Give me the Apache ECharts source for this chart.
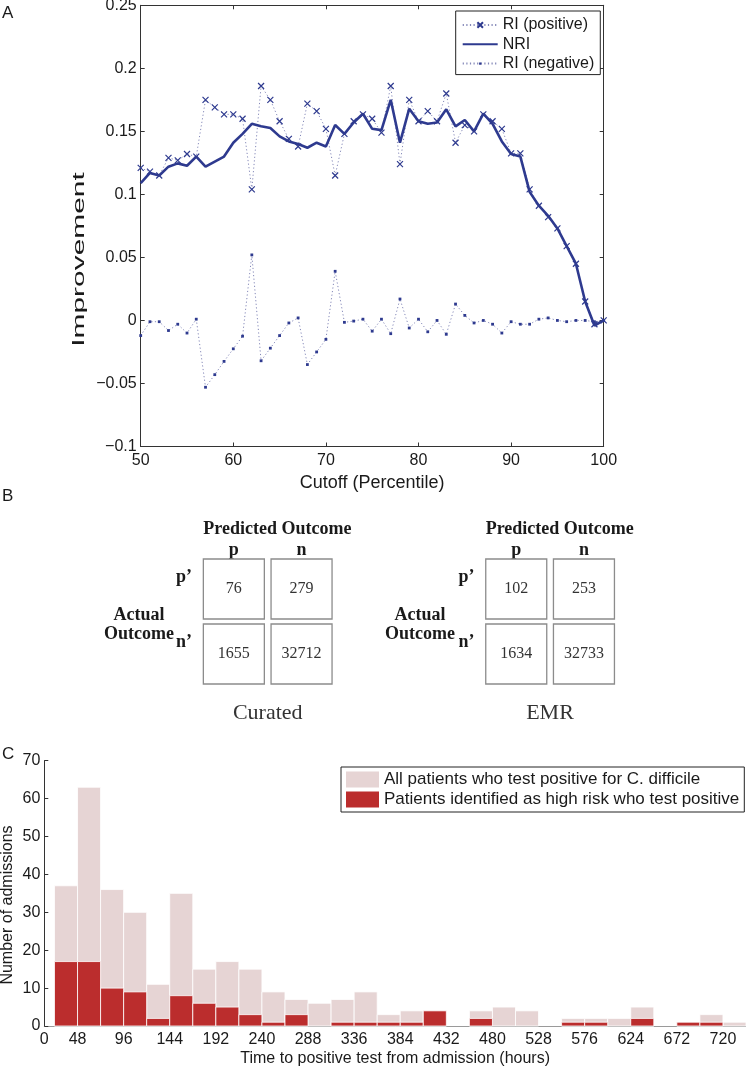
<!DOCTYPE html>
<html><head><meta charset="utf-8">
<script src="https://cdn.jsdelivr.net/npm/echarts@6/dist/echarts.min.js"></script>
<style>html,body{margin:0;padding:0;background:#fff}#chart{width:746px;height:1074px}</style>
</head><body><div id="chart"></div>
<script>
// ---------- Panel A data ----------
const cutoffs = [50,51,52,53,54,55,56,57,58,59,60,61,62,63,64,65,66,67,68,69,70,71,72,73,74,75,76,77,78,79,80,81,82,83,84,85,86,87,88,89,90,91,92,93,94,95,96,97,98,99,100];
const riPositive = [0.121,0.118,0.115,0.129,0.127,0.132,0.130,0.175,0.169,0.1635,
                    0.1635,0.160,0.104,0.186,0.175,0.158,0.144,0.138,0.172,0.166,
                    0.152,0.115,0.148,0.158,0.1635,0.160,0.149,0.186,0.124,0.175,
                    0.158,0.166,0.158,0.180,0.141,0.155,0.150,0.1635,0.158,0.152,
                    0.1325,0.1325,0.104,0.091,0.082,0.073,0.059,0.045,0.015,-0.003,0.000];
const nri = [0.109,0.117,0.115,0.122,0.1246,0.1227,0.130,0.122,0.126,0.130,
             0.141,0.148,0.156,0.154,0.1526,0.146,0.142,0.140,0.137,0.141,
             0.138,0.155,0.148,0.157,0.164,0.152,0.151,0.175,0.141,0.168,
             0.158,0.156,0.157,0.1675,0.154,0.159,0.150,0.164,0.156,0.142,
             0.132,0.130,0.102,0.091,0.083,0.073,0.059,0.045,0.015,-0.004,0.000];
const riNegative = [-0.012,-0.001,-0.001,-0.008,-0.003,-0.010,0.001,-0.053,-0.043,-0.0325,
                    -0.0225,-0.0125,0.052,-0.032,-0.022,-0.012,-0.002,0.002,-0.035,-0.025,
                    -0.015,0.039,-0.0015,-0.0005,0.001,-0.0085,0.001,-0.0105,0.017,-0.006,
                    0.001,-0.009,0.000,-0.011,0.013,0.004,-0.002,0.000,-0.003,-0.010,
                    -0.001,-0.003,-0.003,0.001,0.002,0.000,-0.001,0.000,0.000,-0.001,0.000];
const yTickValuesA = [-0.1,-0.05,0,0.05,0.1,0.15,0.2,0.25];
const yTickLabelsA = ['\u22120.1','\u22120.05','0','0.05','0.1','0.15','0.2','0.25'];

// ---------- Panel B data ----------
const matrixCols = ['p','n'];
const matrixRows = ['p\u2019','n\u2019'];
const curatedCounts = [76,279,1655,32712];   // row-major: p'p, p'n, n'p, n'n
const emrCounts = [102,253,1634,32733];

// ---------- Panel C data ----------
const binStarts = [24,48,72,96,120,144,168,192,216,240,264,288,312,336,360,384,408,432,456,480,504,528,552,576,600,624,648,672,696,720];
const binWidth = 24;
const allPositive = [37,63,36,30,11,35,15,17,15,9,7,6,7,9,3,4,4,0,4,5,4,0,2,2,2,5,0,1,3,1];
const highRisk =    [17,17,10,9,2,8,6,5,3,1,3,0,1,1,1,1,4,0,2,0,0,0,1,1,0,2,0,1,1,0];
const histTickValues = [13.4,48,96,144,192,240,288,336,384,432,480,528,576,624,672,720];
const histTickLabels = ['0','48','96','144','192','240','288','336','384','432','480','528','576','624','672','720'];

// ---------- styles ----------
const SANS = "'Liberation Sans', Arial, Helvetica, sans-serif";
const SERIF = "'Liberation Serif', 'Times New Roman', serif";
const NAVY = '#2e3a8f';
const AXIS = '#333';
const TXT = '#1a1a1a';
const LIGHT = '#e6d4d4';
const DARK = '#bb2d2d';
const X_MARK = 'path://M0,0L10,10M10,0L0,10';
const DOT_MARK = 'path://M0,0L0,0M10,10L10,10M3,3L7,3L7,7L3,7Z';

const chart = echarts.init(document.getElementById('chart'), null, {renderer:'canvas'});

function labelA(v){
  let best = 0;
  yTickValuesA.forEach((t,i)=>{ if (Math.abs(t-v) < Math.abs(yTickValuesA[best]-v)) best = i; });
  return yTickLabelsA[best];
}
function labelC(v){
  let best = 0;
  histTickValues.forEach((t,i)=>{ if (Math.abs(t-v) < Math.abs(histTickValues[best]-v)) best = i; });
  return histTickLabels[best];
}

function histRender(params, api){
  const x0 = api.value(0), x1 = api.value(1), v = api.value(2);
  if (!v) return null;
  const a = api.coord([x0, v]);
  const b = api.coord([x1, 0]);
  return {type:'rect', shape:{x:a[0], y:a[1], width:b[0]-a[0], height:b[1]-a[1]},
          style:{fill: api.visual('color'), stroke:'rgba(255,255,255,0.8)', lineWidth:1}};
}
function cellRender(params, api){
  const c = api.coord([api.value(0), api.value(1)]);
  const s = api.size([1,1]);
  const w = s[0]-6.7, h = s[1]-5;
  return {type:'group', children:[
    {type:'rect', shape:{x:c[0]-w/2, y:c[1]-h/2, width:w, height:h},
     style:{fill:'#fff', stroke:'#8c8c8c', lineWidth:1.3}},
    {type:'text', x:c[0], y:c[1], style:{text:String(api.value(2)), align:'center', verticalAlign:'middle',
      fontFamily:SERIF, fontSize:16, fill:'#333'}}
  ]};
}
function matrixData(counts){
  const out = [];
  matrixRows.forEach((r,ri)=>matrixCols.forEach((c,ci)=>out.push([ci, ri, counts[ri*matrixCols.length+ci]])));
  return out;
}

const axisTxt = {fontFamily:SANS, fontSize:16, color:TXT};
const matXAxis = (gi)=>({type:'category', gridIndex:gi, data:matrixCols, position:'top',
  axisLine:{show:false}, axisTick:{show:false}, splitLine:{show:false},
  axisLabel:{margin:-3, fontFamily:SERIF, fontWeight:'bold', fontSize:18, color:TXT}});
const matYAxis = (gi)=>({type:'category', gridIndex:gi, data:matrixRows, inverse:true,
  axisLine:{show:false}, axisTick:{show:false}, splitLine:{show:false},
  axisLabel:{margin:8, verticalAlign:'bottom', padding:[0,0,3,0], fontFamily:SERIF, fontWeight:'bold', fontSize:18, color:TXT}});

const option = {
  animation:false,
  backgroundColor:'#fff',
  grid:[
    {left:140.7, right:142.3, top:5.3, bottom:627.5, containLabel:false, outerBoundsMode:'none'},
    {left:200, top:556.5, width:135.4, height:130, containLabel:false, outerBoundsMode:'none'},
    {left:482.4, top:556.5, width:135.4, height:130, containLabel:false, outerBoundsMode:'none'},
    {left:44.3, right:0, top:760.7, bottom:48, containLabel:false, outerBoundsMode:'none'}
  ],
  xAxis:[
    {type:'value', gridIndex:0, min:50, max:100, interval:10,
     axisLine:{onZero:false, lineStyle:{color:AXIS, width:1}}, axisTick:{inside:true, length:4, lineStyle:{color:AXIS}},
     axisLabel:Object.assign({margin:6}, axisTxt), splitLine:{show:false},
     name:'Cutoff (Percentile)', nameLocation:'middle', nameGap:28,
     nameTextStyle:{fontFamily:SANS, fontSize:18, color:TXT}},
    {type:'value', gridIndex:0, min:50, max:100, interval:10, position:'top',
     axisLine:{onZero:false, lineStyle:{color:AXIS, width:1}}, axisTick:{inside:true, length:4, lineStyle:{color:AXIS}},
     axisLabel:{show:false}, splitLine:{show:false}},
    matXAxis(1), matXAxis(2),
    {type:'value', gridIndex:3, min:13.4, max:744,
     axisLine:{onZero:false, lineStyle:{color:'#9a9a9a', width:1}}, axisTick:{show:false},
     axisLabel:Object.assign({margin:6, customValues:histTickValues, formatter:labelC}, axisTxt),
     splitLine:{show:false},
     name:'Time to positive test from admission (hours)', nameLocation:'middle', nameGap:25,
     nameTextStyle:{fontFamily:SANS, fontSize:16, color:TXT}}
  ],
  yAxis:[
    {type:'value', gridIndex:0, min:-0.1, max:0.25, interval:0.05,
     axisLine:{show:true, onZero:false, lineStyle:{color:AXIS, width:1}}, axisTick:{show:true, inside:true, length:4, lineStyle:{color:AXIS}},
     axisLabel:Object.assign({margin:4, formatter:labelA}, axisTxt), splitLine:{show:false}},
    {type:'value', gridIndex:0, min:-0.1, max:0.25, interval:0.05, position:'right',
     axisLine:{show:true, onZero:false, lineStyle:{color:AXIS, width:1}}, axisTick:{show:true, inside:true, length:4, lineStyle:{color:AXIS}},
     axisLabel:{show:false}, splitLine:{show:false}},
    matYAxis(1), matYAxis(2),
    {type:'value', gridIndex:3, min:0, max:70, interval:10,
     axisLine:{show:true, onZero:false, lineStyle:{color:AXIS, width:1}}, axisTick:{show:true, inside:true, length:4, lineStyle:{color:AXIS}},
     axisLabel:Object.assign({margin:4}, axisTxt), splitLine:{show:false}}
  ],
  legend:[
    {left:455.7, top:11, orient:'vertical', padding:[6,6,3,6], itemGap:3.3, itemWidth:35, itemHeight:7,
     backgroundColor:'#fff', borderColor:'#222', borderWidth:1, borderRadius:0,
     textStyle:{fontFamily:SANS, fontSize:16, color:TXT}, selectedMode:false,
     data:['RI (positive)', {name:'NRI', itemStyle:{opacity:0}}, 'RI (negative)']},
    {left:341, top:767, orient:'vertical', padding:[4,5,4,5], itemGap:3, itemWidth:33, itemHeight:16, icon:'rect',
     backgroundColor:'#fff', borderColor:'#222', borderWidth:1, borderRadius:0,
     textStyle:{fontFamily:SANS, fontSize:17, color:TXT}, selectedMode:false,
     data:['All patients who test positive for C. difficile','Patients identified as high risk who test positive']}
  ],
  series:[
    {name:'RI (positive)', type:'line', xAxisIndex:0, yAxisIndex:0,
     data:cutoffs.map((c,i)=>[c, riPositive[i]]),
     symbol:X_MARK, symbolSize:6, showSymbol:true,
     lineStyle:{color:'#8488b8', width:1, type:[1.2,2.4]},
     itemStyle:{color:'rgba(0,0,0,0)', borderColor:NAVY, borderWidth:1.2}, z:2},
    {name:'NRI', type:'line', xAxisIndex:0, yAxisIndex:0,
     data:cutoffs.map((c,i)=>[c, nri[i]]), showSymbol:false,
     lineStyle:{color:NAVY, width:2.6}, itemStyle:{color:NAVY, borderWidth:0}, z:3},
    {name:'RI (negative)', type:'line', xAxisIndex:0, yAxisIndex:0,
     data:cutoffs.map((c,i)=>[c, riNegative[i]]),
     symbol:DOT_MARK, symbolSize:7, showSymbol:true,
     lineStyle:{color:'#8488b8', width:1, type:[1.2,2.4]},
     itemStyle:{color:NAVY, borderWidth:0}, z:2},
    {type:'custom', xAxisIndex:2, yAxisIndex:2, renderItem:cellRender, data:matrixData(curatedCounts)},
    {type:'custom', xAxisIndex:3, yAxisIndex:3, renderItem:cellRender, data:matrixData(emrCounts)},
    {name:'All patients who test positive for C. difficile', type:'custom', xAxisIndex:4, yAxisIndex:4,
     renderItem:histRender, itemStyle:{color:LIGHT},
     data:binStarts.map((s,i)=>[s, s+binWidth, allPositive[i]]), z:2},
    {name:'Patients identified as high risk who test positive', type:'custom', xAxisIndex:4, yAxisIndex:4,
     renderItem:histRender, itemStyle:{color:DARK},
     data:binStarts.map((s,i)=>[s, s+binWidth, highRisk[i]]), z:3}
  ],
  graphic:[
    {type:'text', x:2, y:5, style:{text:'A', fontFamily:SANS, fontSize:17, fill:TXT, align:'left', verticalAlign:'top'}},
    {type:'text', x:2, y:488, style:{text:'B', fontFamily:SANS, fontSize:17, fill:TXT, align:'left', verticalAlign:'top'}},
    {type:'text', x:2, y:746, style:{text:'C', fontFamily:SANS, fontSize:17, fill:TXT, align:'left', verticalAlign:'top'}},
    {type:'text', x:79.3, y:259.5, rotation:Math.PI/2, scaleX:1.76,
     style:{text:'Improvement', fontFamily:SANS, fontSize:17, fill:TXT, align:'center', verticalAlign:'middle'}},
    {type:'text', x:8, y:905, rotation:Math.PI/2,
     style:{text:'Number of admissions', fontFamily:SANS, fontSize:16, fill:TXT, align:'center', verticalAlign:'middle'}},
    {type:'text', x:203.3, y:529, style:{text:'Predicted Outcome', fontFamily:SERIF, fontWeight:'bold', fontSize:18, fill:TXT, align:'left', verticalAlign:'middle'}},
    {type:'text', x:485.7, y:529, style:{text:'Predicted Outcome', fontFamily:SERIF, fontWeight:'bold', fontSize:18, fill:TXT, align:'left', verticalAlign:'middle'}},
    {type:'text', x:139, y:615, style:{text:'Actual', fontFamily:SERIF, fontWeight:'bold', fontSize:18, fill:TXT, align:'center', verticalAlign:'middle'}},
    {type:'text', x:139, y:634, style:{text:'Outcome', fontFamily:SERIF, fontWeight:'bold', fontSize:18, fill:TXT, align:'center', verticalAlign:'middle'}},
    {type:'text', x:420, y:615, style:{text:'Actual', fontFamily:SERIF, fontWeight:'bold', fontSize:18, fill:TXT, align:'center', verticalAlign:'middle'}},
    {type:'text', x:420, y:634, style:{text:'Outcome', fontFamily:SERIF, fontWeight:'bold', fontSize:18, fill:TXT, align:'center', verticalAlign:'middle'}},
    {type:'text', x:267.7, y:713, style:{text:'Curated', fontFamily:SERIF, fontSize:22, fill:'#333', align:'center', verticalAlign:'middle'}},
    {type:'text', x:550, y:713, style:{text:'EMR', fontFamily:SERIF, fontSize:22, fill:'#333', align:'center', verticalAlign:'middle'}}
  ]
};
chart.setOption(option);
</script>
</body></html>
